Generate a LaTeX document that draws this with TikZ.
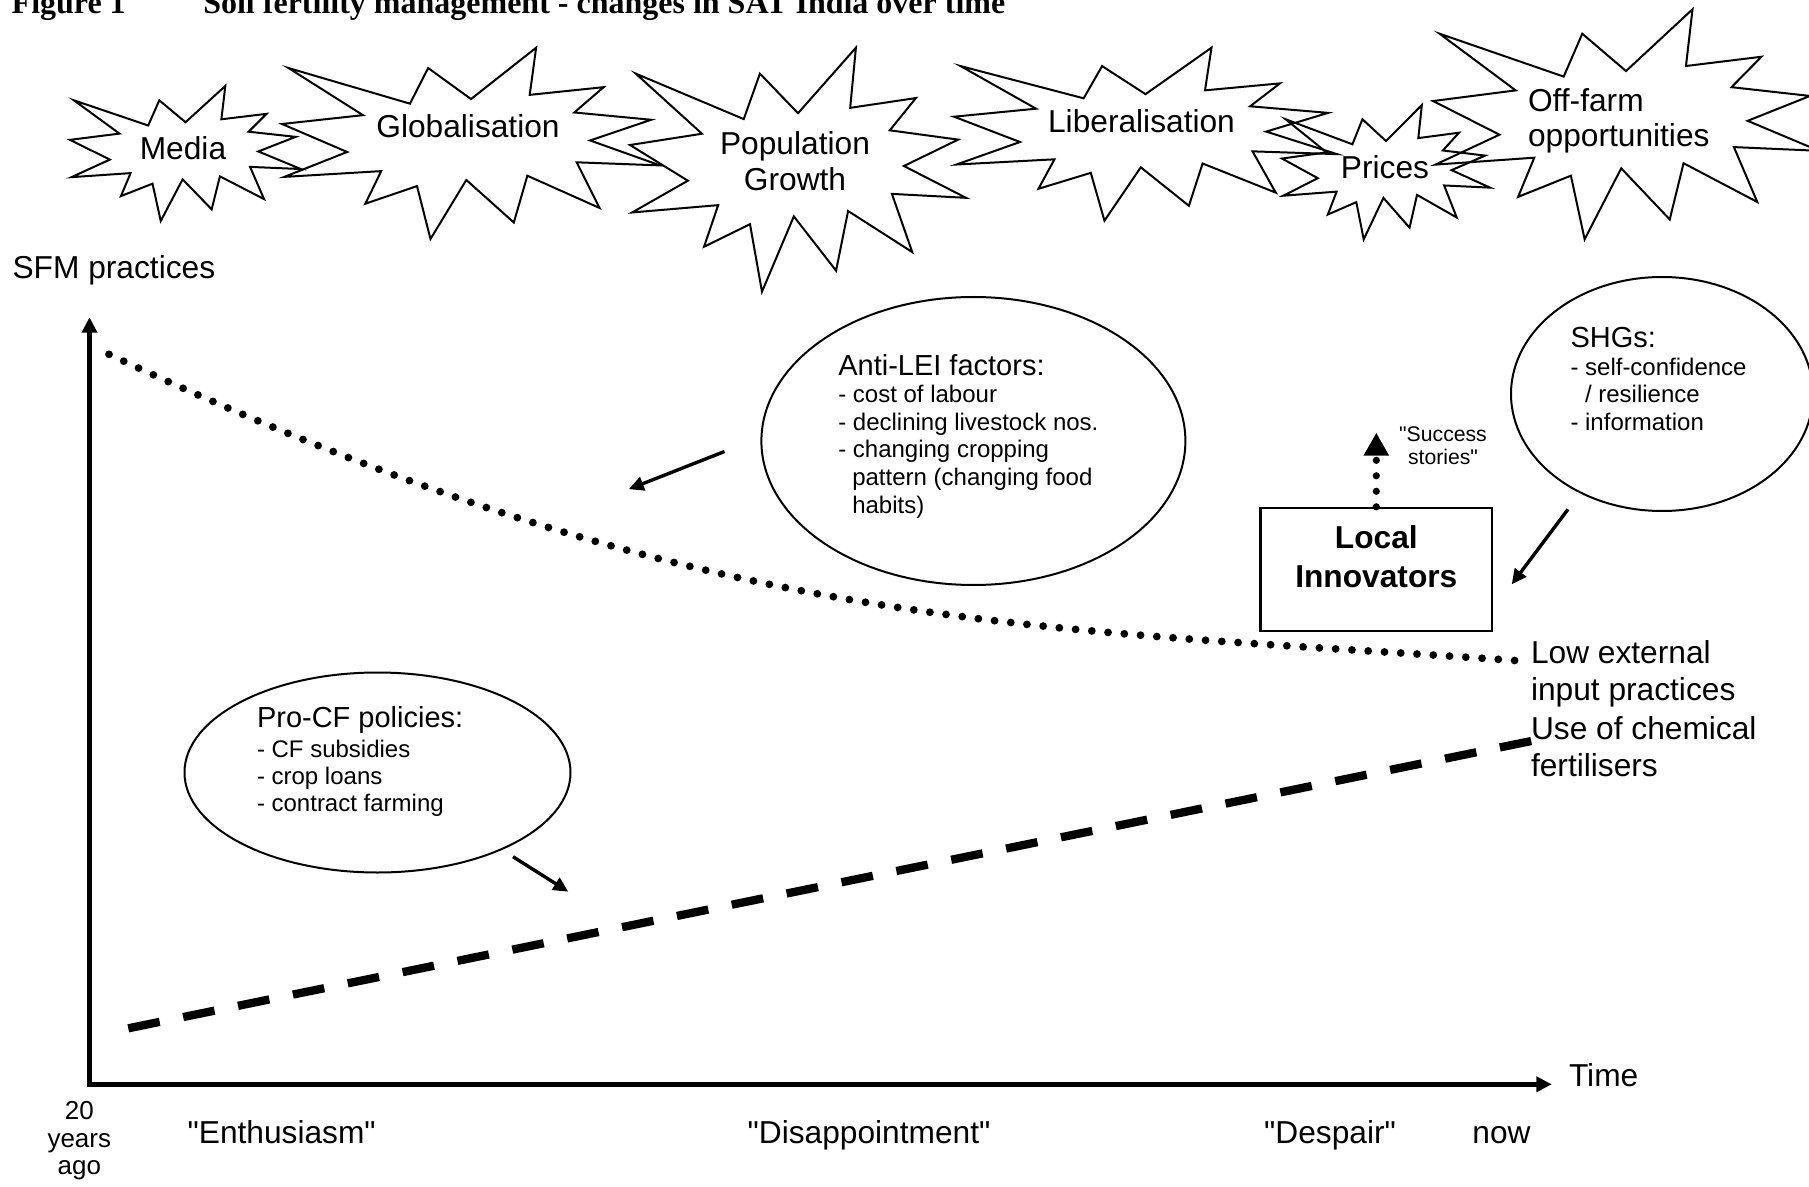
\documentclass[tikz,border=0pt]{standalone}
\usepackage{fontspec}
\setmainfont{Liberation Sans}[Ligatures=TeXOff]
\newfontfamily\titlefont{Liberation Serif}
\usetikzlibrary{arrows.meta,shapes.geometric}
\newcommand{\sq}{\symbol{34}}
\tikzset{
  txt/.style={inner sep=0pt, outer sep=0pt},
  bigtxt/.style={txt, font=\fontsize{15.85}{18}\selectfont},
  titletxt/.style={txt, anchor=base west, font=\titlefont\bfseries\fontsize{16}{19}\selectfont},
  headtxt/.style={txt, anchor=base west, font=\fontsize{14.5}{16.5}\selectfont},
  itemtxt/.style={txt, anchor=base west, font=\fontsize{12}{13.75}\selectfont},
  smalltxt/.style={txt, anchor=base, font=\fontsize{10.6}{12}\selectfont},
  yeartxt/.style={txt, anchor=base, font=\fontsize{13}{14}\selectfont},
  starline/.style={draw, line width=1pt},
  bubble/.style={draw, ellipse, line width=1pt, inner sep=0pt},
  boxnode/.style={draw, rectangle, line width=1.2pt, inner sep=0pt},
  arr/.style={line width=1.7pt, -{Triangle[length=7.5pt,width=7pt]}},
  axis/.style={line width=2.25pt, {Triangle[length=7.7pt,width=7.5pt]}-{Triangle[length=7.7pt,width=7.5pt]}},
  dashline/.style={line width=4.15pt, dash pattern=on 16pt off 12pt},
  dotcurve/.style={line width=3.9pt, line cap=round, dash pattern=on 0pt off 8.15pt},
  dotarrow/.style={line width=3.6pt, line cap=round, dash pattern=on 0pt off 7.75pt, -{Triangle[length=11.5pt,width=12pt]}},
}
\newcommand{\drawseal}[4]{%
  \begin{scope}[shift={(#1,#2)},xscale=#3/216,yscale=#4/216]
    \draw[starline] (108,58) -- (145.22,0) -- (141.55,53.25) -- (183.8,44.57) -- (167.02,73.15) -- (210.97,81.37) -- (176.07,104.75) -- (216,132.9) -- (168.37,129.42) -- (181.45,180.95) -- (140.2,144.57) -- (132.47,197.37) -- (105.32,149.35) -- (84.85,216) -- (77.15,156.27) -- (47.62,176.17) -- (56.67,139.37) -- (1.35,145.87) -- (37.22,117.75) -- (0,86.15) -- (46.27,76.17) -- (3.7,22.95) -- (73.12,63.2) -- (83.52,22.95) -- cycle;
  \end{scope}}
\begin{document}
\begin{tikzpicture}[x=0.5pt,y=-0.5pt]
\useasboundingbox (0,0) rectangle (1809,1187);

% title
\node[titletxt] (fig) at (11.7,13.3) {Figure 1};
\node[titletxt] (title) at (203.3,13.3) {Soil fertility management - changes in SAT India over time};

% explosion shapes
\drawseal{70}{86}{231}{135}
\drawseal{282}{47.7}{378}{191.3}
\drawseal{630}{47.7}{336}{244}
\drawseal{954}{47.7}{383}{173}
\drawseal{1282}{105}{208}{134.3}
\drawseal{1433}{9.3}{386}{230}

\node[bigtxt, anchor=base] (media) at (183,160) {Media};
\node[bigtxt, anchor=base] (glob) at (468,138) {Globalisation};
\node[bigtxt, anchor=base] (pop1) at (795,155) {Population};
\node[bigtxt, anchor=base] (pop2) at (795,191) {Growth};
\node[bigtxt, anchor=base] (lib) at (1141.5,133) {Liberalisation};
\node[bigtxt, anchor=base] (prices) at (1385,179) {Prices};
\node[bigtxt, anchor=base west] (off1) at (1528,111.7) {Off-farm};
\node[bigtxt, anchor=base west] (off2) at (1528,147) {opportunities};

% axis labels
\node[bigtxt, anchor=base west] (sfm) at (12.6,278.5) {SFM practices};
\node[bigtxt, anchor=base west] (time) at (1569,1086) {Time};
\node[yeartxt] (y1) at (79.3,1119.5) {20};
\node[yeartxt] (y2) at (79.3,1147) {years};
\node[yeartxt] (y3) at (79.3,1174.5) {ago};
\node[bigtxt, anchor=base] (enth) at (281.7,1143.3) {\sq Enthusiasm\sq};
\node[bigtxt, anchor=base] (disap) at (869,1143.3) {\sq Disappointment\sq};
\node[bigtxt, anchor=base] (desp) at (1330,1143.3) {\sq Despair\sq};
\node[bigtxt, anchor=base] (now) at (1501.5,1143.3) {now};

% axes
\coordinate (O) at (89.5,1084.3);
\coordinate (ytop) at (89.5,317.3);
\coordinate (xend) at (1551.7,1084.3);
\draw[axis] (ytop) -- (O) -- (xend);

% curves
\coordinate (c0) at (109,354.3);
\coordinate (c1) at (709,636);
\coordinate (c2) at (1022,626);
\coordinate (c3) at (1522,661);
\draw[dotcurve] (c0) .. controls (c1) and (c2) .. (c3);
\coordinate (d0) at (128.3,1028.3);
\coordinate (d1) at (1532.8,740.7);
\draw[dashline] (d0) -- (d1);

\node[bigtxt, anchor=base west] (lei1) at (1531,663.5) {Low external};
\node[bigtxt, anchor=base west] (lei2) at (1531,700) {input practices};
\node[bigtxt, anchor=base west] (cf1) at (1531,739.5) {Use of chemical};
\node[bigtxt, anchor=base west] (cf2) at (1531,776) {fertilisers};

% Anti-LEI bubble
\node[bubble, minimum width=212pt, minimum height=144pt] (antilei) at (973.4,441) {};
\node[headtxt] (al0) at (838.3,376) {Anti-LEI factors:};
\node[itemtxt] (al1) at (838.3,402.7) {- cost of labour};
\node[itemtxt] (al2) at (838.3,430.5) {- declining livestock nos.};
\node[itemtxt] (al3) at (838.3,458) {- changing cropping};
\node[itemtxt] (al4) at (852.3,485.5) {pattern (changing food};
\node[itemtxt] (al5) at (852.3,513) {habits)};

% Pro-CF bubble
\node[bubble, minimum width=193pt, minimum height=100pt] (procf) at (377.5,772.5) {};
\node[headtxt] (pc0) at (257,727.5) {Pro-CF policies:};
\node[itemtxt] (pc1) at (257,757) {- CF subsidies};
\node[itemtxt] (pc2) at (257,784.5) {- crop loans};
\node[itemtxt] (pc3) at (257,811) {- contract farming};

% SHGs bubble
\node[bubble, minimum width=151pt, minimum height=117pt] (shg) at (1662,394) {};
\node[headtxt] (sh0) at (1570.5,347.5) {SHGs:};
\node[itemtxt] (sh1) at (1570.5,375.5) {- self-confidence};
\node[itemtxt] (sh2) at (1585,403) {/ resilience};
\node[itemtxt] (sh3) at (1570.5,430.5) {- information};

% Local innovators
\node[boxnode, minimum width=115.7pt, minimum height=61.5pt] (li) at (1376.3,569.5) {};
\node[bigtxt, anchor=base, font=\fontsize{15.85}{18}\selectfont\bfseries] (li1) at (1376.3,548) {Local};
\node[bigtxt, anchor=base, font=\fontsize{15.85}{18}\selectfont\bfseries] (li2) at (1376.3,587) {Innovators};
\coordinate (sstip) at (1376.3,432.7);
\draw[dotarrow] (li.north) -- (sstip);
\node[smalltxt] (ss1) at (1443,442) {\sq Success};
\node[smalltxt] (ss2) at (1443,465) {stories\sq};

% arrows
\coordinate (a1s) at (724.5,451.5);
\coordinate (a1e) at (628.8,489.2);
\draw[arr] (a1s) -- (a1e);
\coordinate (a2s) at (513,856.7);
\coordinate (a2e) at (568.3,891.7);
\draw[arr] (a2s) -- (a2e);
\coordinate (a3s) at (1568,509.3);
\coordinate (a3e) at (1511.7,584.3);
\draw[arr] (a3s) -- (a3e);
\end{tikzpicture}
\end{document}
